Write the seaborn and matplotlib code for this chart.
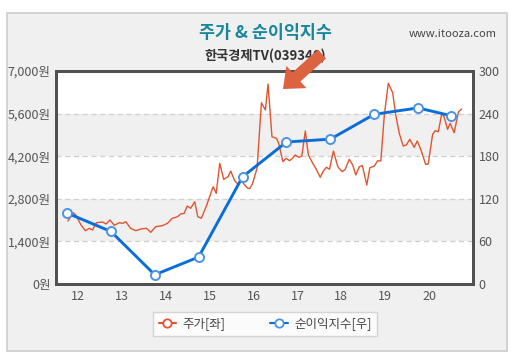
import matplotlib
matplotlib.use("Agg")
import matplotlib.pyplot as plt
import seaborn as sns
from matplotlib.patches import Rectangle, FancyArrow
from matplotlib.lines import Line2D
from matplotlib.transforms import IdentityTransform

sns.set_theme(style="white")
plt.rcParams['font.family'] = ['Noto Sans CJK KR', 'DejaVu Sans']

# ---- data ----
price_x = [11.77, 11.89, 11.95, 12.07, 12.17, 12.26, 12.33, 12.42, 12.56, 12.64,
           12.73, 12.83, 12.94, 13.02, 13.09, 13.20, 13.32, 13.43, 13.56, 13.66,
           13.77, 13.92, 14.04, 14.15, 14.27, 14.34, 14.42, 14.49, 14.57, 14.66,
           14.73, 14.81, 14.92, 15.08, 15.15, 15.23, 15.32, 15.42, 15.48, 15.57,
           15.64, 15.72, 15.80, 15.87, 15.92, 15.98, 16.08, 16.18, 16.27, 16.33,
           16.42, 16.52, 16.57, 16.67, 16.74, 16.82, 16.89, 16.95, 17.03, 17.10,
           17.18, 17.25, 17.35, 17.43, 17.52, 17.58, 17.66, 17.73, 17.82, 17.92,
           18.02, 18.09, 18.18, 18.26, 18.33, 18.41, 18.48, 18.58, 18.65, 18.75,
           18.83, 18.90, 18.98, 19.07, 19.17, 19.24, 19.32, 19.41, 19.48, 19.56,
           19.66, 19.73, 19.81, 19.92, 19.98, 20.08, 20.14, 20.21, 20.29, 20.34,
           20.42, 20.48, 20.57, 20.67, 20.74]
price = [2070, 2343, 2267, 1939, 1752, 1830, 1774, 2014, 2037, 1972,
         2103, 1928, 2014, 1994, 2047, 1830, 1752, 1807, 1830, 1698,
         1883, 1916, 1994, 2159, 2212, 2300, 2323, 2563, 2488, 2705,
         2212, 2159, 2540, 3197, 2980, 3966, 3440, 3526, 3713, 3395,
         3286, 3395, 3253, 3145, 3145, 3309, 3802, 5957, 5718, 6572,
         4840, 4788, 4643, 4019, 4130, 4052, 4130, 4239, 4163, 4206,
         5028, 4239, 3966, 3769, 3506, 3690, 3835, 3769, 4370, 3855,
         3690, 3769, 4098, 3910, 3582, 3855, 3887, 3253, 3822, 3877,
         4052, 4042, 5553, 6595, 6286, 5553, 4952, 4535, 4568, 4755,
         4492, 4699, 4426, 3933, 3943, 4919, 5038, 5004, 5609, 5497,
         5083, 5280, 4971, 5662, 5751]

index_x = [11.75, 12.75, 13.75, 14.75, 15.75, 16.75, 17.75, 18.75, 19.75, 20.5]
index_vals = [100, 74, 13, 38, 151, 200, 204, 239, 248, 237]

left_ticks = [0, 1400, 2800, 4200, 5600, 7000]
right_ticks = [0, 60, 120, 180, 240, 300]
year_ticks = [12, 13, 14, 15, 16, 17, 18, 19, 20]

title = "주가 & 순이익지수"
subtitle = "한국경제TV(039340)"
site = "www.itooza.com"
legend_labels = ["주가[좌]", "순이익지수[우]"]

RED = "#e0552f"
BLUE = "#0a6ed9"
BLUE_EDGE = "#4b93e6"
TXT = "#555555"

W, H = 512, 356
fig = plt.figure(figsize=(W / 100, H / 100), dpi=100)
fig.patch.set_facecolor("white")

# outer gray panel
fig.add_artist(Rectangle((7 / W, 1 - 351 / H), 500 / W, 338 / H,
                         transform=fig.transFigure, facecolor="#f0f0f0",
                         edgecolor="#cccccc", lw=1.2, zorder=-10))

ax = fig.add_axes([56 / W, 1 - 284 / H, 417 / W, 213 / H])
ax.set_facecolor("white")
ax2 = ax.twinx()
ax2.patch.set_visible(False)

# bands and grid
for lo, hi in [(1400, 2800), (4200, 5600)]:
    ax.axhspan(lo, hi, color="#f0f0f0", zorder=0, lw=0)
for v in left_ticks[1:-1]:
    ax.axhline(v, color="#cfcfcf", lw=0.9, ls=(0, (4, 3)), zorder=0.5)

sns.lineplot(x=price_x, y=price, ax=ax, color=RED, linewidth=1.0, zorder=2)
sns.lineplot(x=index_x, y=index_vals, ax=ax2, color=BLUE, linewidth=2.1,
             marker="o", markersize=6.5, markerfacecolor="white",
             markeredgecolor=BLUE_EDGE, markeredgewidth=1.4, zorder=3)

ax.set_xlim(11.5, 21.0)
ax.set_ylim(0, 7000)
ax2.set_ylim(0, 300)
ax.set_xticks(year_ticks)
ax.set_xticklabels([str(t) for t in year_ticks])
ax.set_yticks(left_ticks)
ax.set_yticklabels([f"{t:,}원" for t in left_ticks])
ax2.set_yticks(right_ticks)
ax2.set_yticklabels([str(t) for t in right_ticks])
for a in (ax, ax2):
    a.set_xlabel("")
    a.set_ylabel("")
    a.tick_params(length=0, labelsize=9, colors=TXT, pad=4)
    a.grid(False)
    for s in a.spines.values():
        s.set_color("#505050")
        s.set_linewidth(2.0)
        s.set_visible(True)

# titles
fig.text(265 / W, 1 - 33 / H, title, ha="center", va="center",
         fontsize=12.5, fontweight="bold", color="#18879c")
fig.text(265 / W, 1 - 56 / H, subtitle, ha="center", va="center",
         fontsize=9.5, fontweight="bold", color="#333333")
fig.text(497 / W, 1 - 34 / H, site, ha="right", va="center",
         fontsize=8, color="#444444")

# arrow
fig.add_artist(FancyArrow(322, H - 54, -39, -35, width=12, head_width=30,
                          head_length=18, length_includes_head=True,
                          transform=IdentityTransform(), color="#dc6240",
                          lw=0, zorder=10))

# legend
handles = [
    Line2D([], [], color=RED, lw=1.5, marker="o", markersize=6,
           markerfacecolor="white", markeredgecolor=RED, markeredgewidth=1.3),
    Line2D([], [], color=BLUE, lw=1.5, marker="o", markersize=6,
           markerfacecolor="white", markeredgecolor=BLUE_EDGE, markeredgewidth=1.3),
]
leg = fig.legend(handles, legend_labels, loc="center",
                 bbox_to_anchor=(265 / W, 1 - 324 / H), ncol=2,
                 frameon=True, fancybox=False, fontsize=9,
                 handlelength=1.4, handletextpad=0.5, columnspacing=3.6,
                 borderpad=0.45)
leg.get_frame().set_facecolor("white")
leg.get_frame().set_edgecolor("#cccccc")
leg.get_frame().set_linewidth(1.0)
for t in leg.get_texts():
    t.set_color("#444444")

fig.savefig("out.png", dpi=100)
